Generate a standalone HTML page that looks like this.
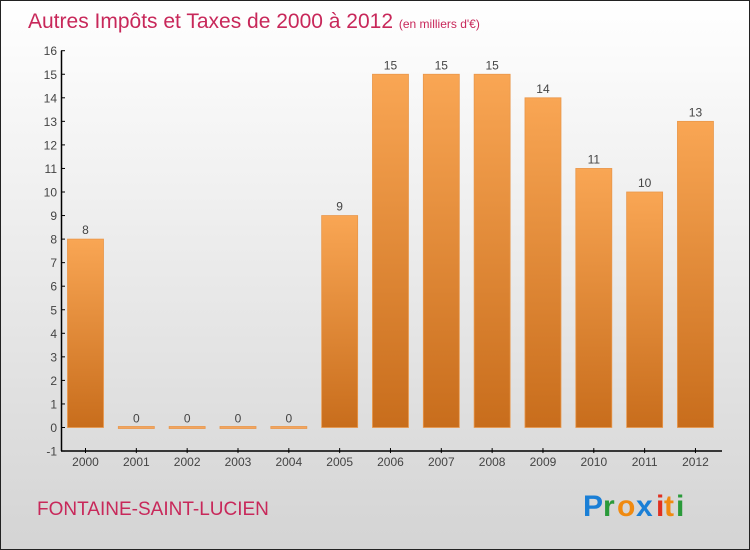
<!DOCTYPE html>
<html><head><meta charset="utf-8"><style>
body{margin:0}
#wrap{position:relative;width:748px;height:548px;border:1px solid #222;background:linear-gradient(#ffffff,#d4d4d4);font-family:"Liberation Sans",sans-serif;overflow:hidden}
svg{position:absolute;left:0;top:0}
</style></head><body>
<div id="wrap">
<svg id="chart" width="748" height="548">
<defs><linearGradient id="bg" x1="0" y1="0" x2="0" y2="1"><stop offset="0" stop-color="#f9a654"/><stop offset="1" stop-color="#c86d1c"/></linearGradient></defs>
<text x="27" y="27" font-size="21" fill="#c8285a">Autres Impôts et Taxes de 2000 à 2012 <tspan font-size="12">(en milliers d'€)</tspan></text>
<text x="36" y="514" font-size="19" fill="#c8285a">FONTAINE-SAINT-LUCIEN</text>
<g font-size="30" font-weight="bold">
<text x="582" y="515" fill="#1a7fd6">P</text><text x="602" y="515" fill="#2a9a3a">r</text><text x="616" y="515" fill="#f08a10">o</text><text x="635" y="515" fill="#1a7fd6">x</text><text x="655" y="515" fill="#e03020">i</text><text x="663" y="515" fill="#f08a10">t</text><text x="675" y="515" fill="#2a9a3a">i</text>
</g>
</svg>
</div>
<script>
const categories=["2000","2001","2002","2003","2004","2005","2006","2007","2008","2009","2010","2011","2012"];
const values=[8,0,0,0,0,9,15,15,15,14,11,10,13];
const yTicks=[-1,0,1,2,3,4,5,6,7,8,9,10,11,12,13,14,15,16];
const svg=document.getElementById('chart');
const NS='http://www.w3.org/2000/svg';
const y0=426.5, unit=23.55, x0=84.5, step=50.83, bw=36;
function yS(v){return y0-v*unit;}
function xS(i){return x0+i*step;}
function mk(t,a){const e=document.createElementNS(NS,t);for(const k in a)e.setAttribute(k,a[k]);svg.appendChild(e);return e;}
const ax=mk('line',{x1:60.5,y1:yS(16),x2:60.5,y2:yS(-1),stroke:'#000','stroke-width':1.5});


const xa=mk('line',{x1:60,y1:yS(-1),x2:721,y2:yS(-1),stroke:'#000','stroke-width':1.5});


yTicks.forEach(v=>{
  const l=mk('line',{x1:60,y1:yS(v),x2:64,y2:yS(v),stroke:'#000'});
  
  
  const t=mk('text',{x:56,y:yS(v)+4.5,'font-size':12,fill:'#444','text-anchor':'end'});
  t.textContent=v;
  
  
});
categories.forEach((c,i)=>{
  const v=values[i];
  const x=xS(i);
  const l=mk('line',{x1:x,y1:yS(-1)-3,x2:x,y2:yS(-1)+2,stroke:'#000'});
  
  
  const t=mk('text',{x:x,y:yS(-1)+15,'font-size':12,fill:'#444','text-anchor':'middle'});
  t.textContent=c;
  
  
  const h=Math.max(v*unit,2);
  const b=mk('rect',{x:x-bw/2,y:yS(v)-(v===0?1:0),width:bw,height:h,fill:v===0?'#f2a561':'url(#bg)',stroke:'#e9974a','stroke-width':0.8});
  
  
  const vl=mk('text',{x:x,y:yS(v)-5,'font-size':12,fill:'#444','text-anchor':'middle'});
  vl.textContent=v;
  
  
});
</script>
</body></html>
